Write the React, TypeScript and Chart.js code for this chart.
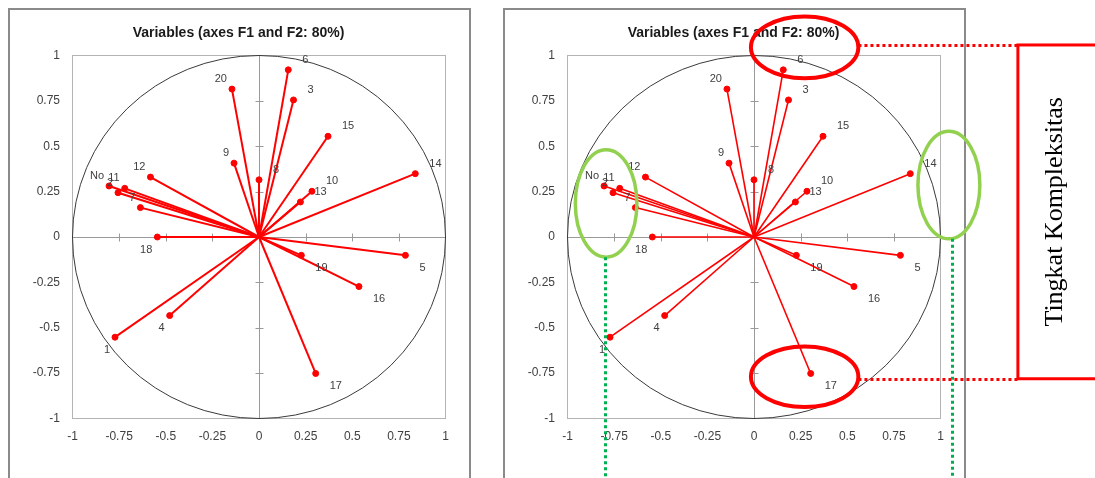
import React, { useEffect, useRef } from 'react';
import { Chart, registerables } from 'chart.js';

Chart.register(...registerables);

// ---- data ----
const TITLE = 'Variables (axes F1 and F2: 80%)';
const VAR_LABELS = ['No', '1', '2', '3', '4', '5', '6', '7', '8', '9', '10', '11', '12', '13', '14', '15', '16', '17', '18', '19', '20'];
const F1 = [-0.804, -0.772, -0.756, 0.185, -0.479, 0.785, 0.157, -0.636, 0.0, -0.134, 0.284, -0.72, -0.582, 0.222, 0.838, 0.37, 0.536, 0.304, -0.545, 0.227, -0.145];
const F2 = [0.281, -0.552, 0.244, 0.755, -0.433, -0.101, 0.921, 0.162, 0.315, 0.407, 0.252, 0.268, 0.33, 0.193, 0.349, 0.555, -0.273, -0.752, 0.0, -0.101, 0.815];
const AXIS_TICKS = [-1, -0.75, -0.5, -0.25, 0, 0.25, 0.5, 0.75, 1];
const INNER_TICKS = [-0.75, -0.5, -0.25, 0.25, 0.5, 0.75];
const BOX_TEXT = 'Tingkat Kompleksitas';

// ---- annotation geometry for the right chart (in axis units) ----
const ANNOT = {
  redEllipses: [
    { cx: 0.2715, cy: 1.045, rx: 0.288, ry: 0.17 },
    { cx: 0.2715, cy: -0.77, rx: 0.288, ry: 0.167 },
  ],
  greenEllipses: [
    { cx: -0.793, cy: 0.185, rx: 0.165, ry: 0.296 },
    { cx: 1.045, cy: 0.286, rx: 0.166, ry: 0.296 },
  ],
  redDotY: [1.058, -0.781],
  redDotX0: 0.56,
  boxLeft: 1.415,
  greenDots: [
    { x: -0.798, y0: -0.111 },
    { x: 1.059, y0: -0.01 },
  ],
  textX: 1.6125,
};

const FONT = '"Liberation Sans", Arial, sans-serif';

function makePlugin(annotate: boolean) {
  return {
    id: 'decor' + (annotate ? 'R' : 'L'),
    beforeDatasetsDraw(chart: any) {
      const { ctx, chartArea: a, scales } = chart;
      const xs = scales.x, ys = scales.y;
      const x0 = Math.round(xs.getPixelForValue(0)) + 0.5;
      const y0 = Math.round(ys.getPixelForValue(0)) + 0.5;
      ctx.save();
      // outer frame
      ctx.strokeStyle = '#8a8a8a';
      ctx.lineWidth = 2;
      ctx.strokeRect(9, 9, 461, 520);
      // plot border
      ctx.strokeStyle = '#b4b4b4';
      ctx.lineWidth = 1;
      ctx.strokeRect(a.left, a.top, a.right - a.left, a.bottom - a.top);
      // zero axes
      ctx.strokeStyle = '#9a9a9a';
      ctx.beginPath();
      ctx.moveTo(a.left, y0);
      ctx.lineTo(a.right, y0);
      ctx.moveTo(x0, a.top);
      ctx.lineTo(x0, a.bottom);
      INNER_TICKS.forEach((v) => {
        const px = Math.round(xs.getPixelForValue(v)) + 0.5;
        ctx.moveTo(px, y0 - 4);
        ctx.lineTo(px, y0 + 4);
        const py = Math.round(ys.getPixelForValue(v)) + 0.5;
        ctx.moveTo(x0 - 4, py);
        ctx.lineTo(x0 + 4, py);
      });
      ctx.stroke();
      // correlation circle
      const cx = xs.getPixelForValue(0), cy = ys.getPixelForValue(0);
      ctx.strokeStyle = '#3a3a3a';
      ctx.lineWidth = 1;
      ctx.beginPath();
      ctx.ellipse(cx, cy, xs.getPixelForValue(1) - cx, cy - ys.getPixelForValue(1), 0, 0, Math.PI * 2);
      ctx.stroke();
      ctx.restore();
    },
    afterDatasetsDraw(chart: any) {
      const { ctx, scales } = chart;
      const xs = scales.x, ys = scales.y;
      ctx.save();
      // title
      ctx.fillStyle = '#1a1a1a';
      ctx.font = 'bold 14px ' + FONT;
      ctx.textAlign = 'center';
      ctx.textBaseline = 'middle';
      ctx.fillText(TITLE, 238.5, 33);
      // point labels
      ctx.font = '11px ' + FONT;
      ctx.fillStyle = '#404040';
      VAR_LABELS.forEach((lab, i) => {
        const px = xs.getPixelForValue(F1[i]);
        const py = ys.getPixelForValue(F2[i]);
        const left = F1[i] < 0;
        ctx.textAlign = left ? 'right' : 'left';
        const tx = left ? px - 5 : px + 14;
        const ty = F2[i] > 0 ? py - 10 : py + 12.5;
        ctx.fillText(lab, tx, ty);
      });
      if (annotate) {
        const X = (v: number) => xs.getPixelForValue(v);
        const Y = (v: number) => ys.getPixelForValue(v);
        const ux = X(1) - X(0), uy = Y(0) - Y(1);
        // green ellipses
        ctx.strokeStyle = '#92d050';
        ctx.lineWidth = 3.5;
        ANNOT.greenEllipses.forEach((e) => {
          ctx.beginPath();
          ctx.ellipse(X(e.cx), Y(e.cy), e.rx * ux, e.ry * uy, 0, 0, Math.PI * 2);
          ctx.stroke();
        });
        // red ellipses
        ctx.strokeStyle = '#ff0000';
        ctx.lineWidth = 4;
        ANNOT.redEllipses.forEach((e) => {
          ctx.beginPath();
          ctx.ellipse(X(e.cx), Y(e.cy), e.rx * ux, e.ry * uy, 0, 0, Math.PI * 2);
          ctx.stroke();
        });
        // red dotted connectors
        ctx.setLineDash([3, 3]);
        ctx.lineWidth = 3;
        ctx.strokeStyle = '#ff0000';
        ANNOT.redDotY.forEach((yv) => {
          ctx.beginPath();
          ctx.moveTo(X(ANNOT.redDotX0), Math.round(Y(yv)) + 0.5);
          ctx.lineTo(X(ANNOT.boxLeft), Math.round(Y(yv)) + 0.5);
          ctx.stroke();
        });
        // green dotted drops
        ctx.strokeStyle = '#00b050';
        ANNOT.greenDots.forEach((g) => {
          ctx.beginPath();
          ctx.moveTo(Math.round(X(g.x)) + 0.5, Y(g.y0));
          ctx.lineTo(Math.round(X(g.x)) + 0.5, chart.height + 5);
          ctx.stroke();
        });
        ctx.setLineDash([]);
        // red box
        const bTop = Y(ANNOT.redDotY[0]);
        const bBot = Y(ANNOT.redDotY[1]);
        ctx.lineWidth = 3;
        ctx.strokeStyle = '#ff0000';
        ctx.strokeRect(X(ANNOT.boxLeft), bTop, chart.width + 20 - X(ANNOT.boxLeft), bBot - bTop);
        // rotated text
        ctx.save();
        ctx.translate(X(ANNOT.textX), (bTop + bBot) / 2);
        ctx.rotate(-Math.PI / 2);
        ctx.fillStyle = '#000000';
        ctx.font = '26px "Liberation Serif", "Times New Roman", serif';
        ctx.textAlign = 'center';
        ctx.textBaseline = 'middle';
        ctx.fillText(BOX_TEXT, 0, 0);
        ctx.restore();
      }
      ctx.restore();
    },
  };
}

function makeConfig(annotate: boolean, width: number): any {
  const lineW = annotate ? 1.6 : 2;
  return {
    type: 'scatter',
    data: {
      datasets: VAR_LABELS.map((lab, i) => ({
        label: lab,
        data: [
          { x: 0, y: 0 },
          { x: F1[i], y: F2[i] },
        ],
        showLine: true,
        borderColor: '#ff0000',
        borderWidth: lineW,
        pointRadius: [0, 3],
        pointBorderWidth: 1,
        pointBackgroundColor: '#ff0000',
        pointBorderColor: '#ff0000',
      })),
    },
    options: {
      animation: false,
      responsive: false,
      events: [],
      layout: { padding: { top: 55.5, left: 0, right: width - 445.5, bottom: 19.5 } },
      plugins: { legend: { display: false }, tooltip: { enabled: false }, title: { display: false } },
      scales: {
        x: {
          type: 'linear',
          min: -1,
          max: 1,
          grid: { display: false, drawTicks: false },
          border: { display: false },
          afterBuildTicks: (s: any) => {
            s.ticks = AXIS_TICKS.map((v) => ({ value: v }));
          },
          afterFit: (s: any) => {
            s.height = 40;
          },
          ticks: {
            padding: 10.8,
            color: '#404040',
            font: { family: FONT, size: 12 },
            maxRotation: 0,
            autoSkip: false,
            callback: (v: any) => String(v),
          },
        },
        y: {
          type: 'linear',
          min: -1,
          max: 1,
          grid: { display: false, drawTicks: false },
          border: { display: false },
          afterBuildTicks: (s: any) => {
            s.ticks = AXIS_TICKS.map((v) => ({ value: v }));
          },
          afterFit: (s: any) => {
            s.width = 72.5;
          },
          ticks: {
            padding: 12.5,
            color: '#404040',
            font: { family: FONT, size: 12 },
            autoSkip: false,
            callback: (v: any) => String(v),
          },
        },
      },
    },
    plugins: [makePlugin(annotate)],
  };
}

function CorrCircle({ annotate, width, left }: { annotate: boolean; width: number; left: number }) {
  const ref = useRef<HTMLCanvasElement>(null);
  useEffect(() => {
    const chart = new Chart(ref.current as HTMLCanvasElement, makeConfig(annotate, width));
    return () => chart.destroy();
  }, [annotate, width]);
  return (
    <canvas
      ref={ref}
      width={width}
      height={478}
      style={{ position: 'absolute', left, top: 0, width, height: 478 }}
    />
  );
}

export default function App() {
  return (
    <div
      style={{
        position: 'absolute',
        left: 0,
        top: 0,
        width: 1095,
        height: 478,
        background: '#ffffff',
        overflow: 'hidden',
      }}
    >
      <CorrCircle annotate={false} width={480} left={0} />
      <CorrCircle annotate={true} width={600} left={495} />
    </div>
  );
}
